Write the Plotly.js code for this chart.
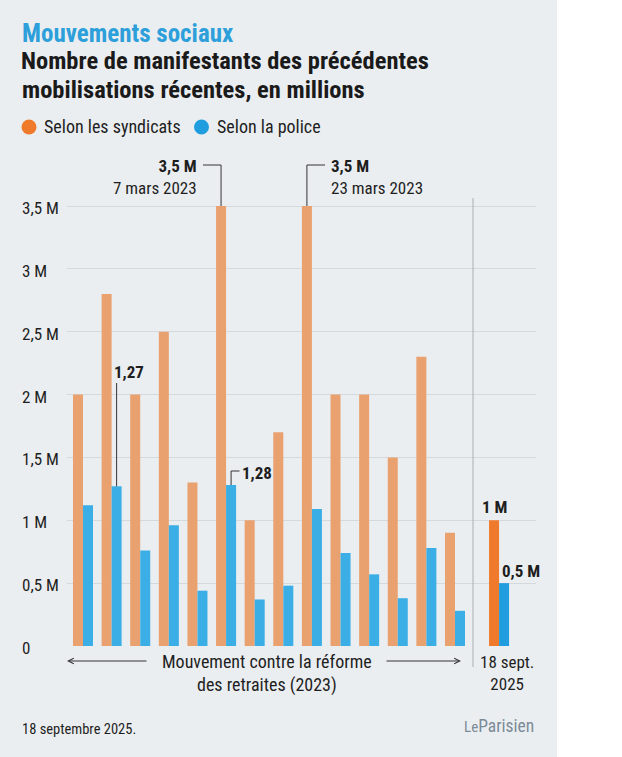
<!DOCTYPE html>
<html>
<head>
<meta charset="utf-8">
<script src="https://cdn.plot.ly/plotly-3.0.1.min.js"></script>
<style>
  html, body { margin: 0; padding: 0; background: #ffffff; }
  #chart { width: 557px; height: 757px; }
</style>
</head>
<body>
<div id="chart"></div>
<script>
// ---- Data ----
var syndicats2023 = [2.0, 2.8, 2.0, 2.5, 1.3, 3.5, 1.0, 1.7, 3.5, 2.0, 2.0, 1.5, 2.3, 0.9];
var police2023    = [1.12, 1.27, 0.76, 0.96, 0.44, 1.28, 0.37, 0.48, 1.09, 0.74, 0.57, 0.38, 0.78, 0.28];
var syndicats2025 = [1.0];
var police2025    = [0.5];
var label2025     = ['18 sept.<br>2025'];
var label2023     = 'Mouvement contre la réforme<br>des retraites (2023)';
var yTickVals     = [0, 0.5, 1, 1.5, 2, 2.5, 3, 3.5];
var yTickLabels   = ['0', '0,5 M', '1 M', '1,5 M', '2 M', '2,5 M', '3 M', '3,5 M'];
var seriesNames   = ['Selon les syndicats', 'Selon la police'];
var peakDates     = ['7 mars 2023', '23 mars 2023'];
var titleLines    = ['Nombre de manifestants des précédentes', 'mobilisations récentes, en millions'];

// ---- Styling ----
var FONT = "'Liberation Sans Narrow', 'Roboto Condensed', 'DejaVu Sans Condensed', Roboto, sans-serif";
var BG = '#ebeef1';
var ORANGE_LIGHT = '#e9a170';
var BLUE_LIGHT = '#3bafe5';
var ORANGE = '#f07a2c';
var BLUE = '#209ddf';
var TXT = '#1e1e1e';
var BW = 0.35;           // bar width in x units
var X2025 = syndicats2023.length - 1 + 1.54;
var XSEP = syndicats2023.length - 1 + 0.63;

function fmt(v) { return String(v).replace('.', ','); }

var idx = syndicats2023.map(function (_, i) { return i; });

var traces = [
  { type: 'bar', x: idx, y: syndicats2023, offset: -BW, width: BW,
    marker: { color: ORANGE_LIGHT }, name: seriesNames[0], showlegend: false, hoverinfo: 'y' },
  { type: 'bar', x: idx, y: police2023, offset: 0, width: BW,
    marker: { color: BLUE_LIGHT }, name: seriesNames[1], showlegend: false, hoverinfo: 'y' },
  { type: 'bar', x: [X2025], y: syndicats2025, offset: -BW, width: BW,
    marker: { color: ORANGE }, name: seriesNames[0], showlegend: false, hoverinfo: 'y' },
  { type: 'bar', x: [X2025], y: police2025, offset: 0, width: BW,
    marker: { color: BLUE }, name: seriesNames[1], showlegend: false, hoverinfo: 'y' }
];

// pixel helpers (plot area: x 67..536, y 156..646)
var PXL = 67, PW = 469, PYB = 646, PH = 490;
function px2paperX(px) { return (px - PXL) / PW; }
function py2paperY(py) { return (PYB - py) / PH; }
var XMIN = -0.559, XMAX = 15.831, YMAX = 3.8977;
function px2x(px) { return XMIN + (px - PXL) / PW * (XMAX - XMIN); }
function py2y(py) { return (PYB - py) / PH * YMAX; }

var annotations = [];
var shapes = [];

// kicker
annotations.push({ xref: 'paper', yref: 'paper', x: px2paperX(20), y: py2paperY(33),
  xanchor: 'left', yanchor: 'middle', showarrow: false, text: 'Mouvements sociaux',
  font: { family: FONT, size: 25, color: '#2d9fda', weight: 'bold' } });

// title second line
annotations.push({ xref: 'paper', yref: 'paper', x: px2paperX(20), y: py2paperY(89.5),
  xanchor: 'left', yanchor: 'middle', showarrow: false, text: titleLines[1],
  font: { family: FONT, size: 24.5, color: '#1a1a1a', weight: 'bold' } });

// legend
var legendColors = [ORANGE, BLUE];
var legendCircleX = [29, 201.5];
var legendTextX = [42, 215];
for (var k = 0; k < 2; k++) {
  shapes.push({ type: 'circle', xref: 'paper', yref: 'paper', xsizemode: 'pixel', ysizemode: 'pixel',
    xanchor: px2paperX(legendCircleX[k]), yanchor: py2paperY(127), x0: -7.5, x1: 7.5, y0: -7.5, y1: 7.5,
    fillcolor: legendColors[k], line: { width: 0 } });
  annotations.push({ xref: 'paper', yref: 'paper', x: px2paperX(legendTextX[k]), y: py2paperY(127),
    xanchor: 'left', yanchor: 'middle', showarrow: false, text: seriesNames[k],
    font: { family: FONT, size: 18, color: TXT } });
}

// y tick labels
for (var t = 0; t < yTickVals.length; t++) {
  annotations.push({ xref: 'paper', yref: 'y', x: px2paperX(20), y: yTickVals[t], yshift: -2,
    xanchor: 'left', yanchor: 'middle', showarrow: false, text: yTickLabels[t],
    font: { family: FONT, size: 17, color: TXT } });
}

var LINE = { color: '#333333', width: 1 };
var yTop = py2y(165);

// peak 1 (index 5)
var p1 = 5, p2 = 8;
shapes.push({ type: 'path', xref: 'x', yref: 'y', line: LINE,
  path: 'M ' + px2x(203) + ',' + yTop + ' H ' + (p1 - BW / 2) + ' V ' + syndicats2023[p1] });
annotations.push({ xref: 'x', yref: 'y', x: px2x(199), y: py2y(176.5), xanchor: 'right', yanchor: 'middle',
  align: 'right', showarrow: false,
  text: '<b>' + fmt(syndicats2023[p1]) + ' M</b><br>' + peakDates[0],
  font: { family: FONT, size: 17, color: TXT } });
// peak 2 (index 8)
shapes.push({ type: 'path', xref: 'x', yref: 'y', line: LINE,
  path: 'M ' + (p2 - BW / 2) + ',' + syndicats2023[p2] + ' V ' + yTop + ' H ' + px2x(325) });
annotations.push({ xref: 'x', yref: 'y', x: px2x(329), y: py2y(176.5), xanchor: 'left', yanchor: 'middle',
  align: 'left', showarrow: false,
  text: '<b>' + fmt(syndicats2023[p2]) + ' M</b><br>' + peakDates[1],
  font: { family: FONT, size: 17, color: TXT } });

// police peaks
var q1 = 1, q2 = 5;
shapes.push({ type: 'path', xref: 'x', yref: 'y', line: LINE,
  path: 'M ' + (q1 + BW / 2) + ',' + police2023[q1] + ' V ' + py2y(383) });
annotations.push({ xref: 'x', yref: 'y', x: px2x(112), y: py2y(372), xanchor: 'left', yanchor: 'middle',
  showarrow: false, text: '<b>' + fmt(police2023[q1]) + '</b>',
  font: { family: FONT, size: 17, color: TXT } });
shapes.push({ type: 'path', xref: 'x', yref: 'y', line: LINE,
  path: 'M ' + (q2 + BW / 2) + ',' + police2023[q2] + ' V ' + py2y(471) + ' H ' + px2x(239.5) });
annotations.push({ xref: 'x', yref: 'y', x: px2x(240), y: py2y(473), xanchor: 'left', yanchor: 'middle',
  showarrow: false, text: '<b>' + fmt(police2023[q2]) + '</b>',
  font: { family: FONT, size: 17, color: TXT } });

// 2025 labels
annotations.push({ xref: 'x', yref: 'y', x: X2025 - BW / 2, y: syndicats2025[0], yshift: 13,
  xanchor: 'center', yanchor: 'middle', showarrow: false, text: '<b>' + fmt(syndicats2025[0]) + ' M</b>',
  font: { family: FONT, size: 17, color: TXT } });
annotations.push({ xref: 'x', yref: 'y', x: X2025 + 0.04, y: police2025[0], yshift: 12,
  xanchor: 'left', yanchor: 'middle', showarrow: false, text: '<b>' + fmt(police2025[0]) + ' M</b>',
  font: { family: FONT, size: 17, color: TXT } });

// separator
shapes.push({ type: 'line', xref: 'x', yref: 'paper', x0: XSEP, x1: XSEP,
  y0: py2paperY(667), y1: py2paperY(198), line: { color: '#a8afb5', width: 1 } });

// bottom arrows + labels (paper y so they are not hidden below the axis range)
var yArrow = py2paperY(661);
annotations.push({ xref: 'x', yref: 'paper', x: px2x(67), y: yArrow, ax: 81, ay: 0, text: '',
  showarrow: true, arrowhead: 5, arrowsize: 1.1, arrowwidth: 1, arrowcolor: '#333333', standoff: 0 });
annotations.push({ xref: 'x', yref: 'paper', x: px2x(461), y: yArrow, ax: -76, ay: 0, text: '',
  showarrow: true, arrowhead: 5, arrowsize: 1.1, arrowwidth: 1, arrowcolor: '#333333', standoff: 0 });
annotations.push({ xref: 'x', yref: 'paper', x: px2x(266.5), y: py2paperY(673), xanchor: 'center', yanchor: 'middle',
  showarrow: false, text: label2023, align: 'center',
  font: { family: FONT, size: 18, color: TXT } });
annotations.push({ xref: 'x', yref: 'paper', x: px2x(507), y: py2paperY(673), xanchor: 'center', yanchor: 'middle',
  showarrow: false, text: label2025[0], align: 'center',
  font: { family: FONT, size: 17, color: TXT } });

// footer
annotations.push({ xref: 'paper', yref: 'paper', x: px2paperX(20), y: py2paperY(729),
  xanchor: 'left', yanchor: 'middle', showarrow: false, text: '18 septembre 2025.',
  font: { family: FONT, size: 14.5, color: TXT } });
annotations.push({ xref: 'paper', yref: 'paper', x: px2paperX(536), y: py2paperY(726),
  xanchor: 'right', yanchor: 'middle', showarrow: false,
  text: '<span style="font-size:15px">Le</span>Parisien',
  font: { family: FONT, size: 17.5, color: '#7b8b97' } });

var layout = {
  width: 557, height: 757,
  margin: { l: 67, r: 21, t: 156, b: 111, pad: 0 },
  paper_bgcolor: BG, plot_bgcolor: BG,
  showlegend: false,
  barmode: 'overlay',
  title: { text: titleLines[0],
    xref: 'container', yref: 'container', x: 21 / 557, xanchor: 'left', y: 1 - 60.5 / 757, yanchor: 'middle',
    font: { family: FONT, size: 24.5, color: '#1a1a1a', weight: 'bold' } },
  xaxis: { range: [XMIN, XMAX], showgrid: false, zeroline: false, showticklabels: false,
    showline: false, ticks: '', fixedrange: true },
  yaxis: { range: [0, YMAX], tickvals: yTickVals, showticklabels: false, showgrid: true,
    gridcolor: '#d4d9de', gridwidth: 1, zeroline: false, showline: false, ticks: '', fixedrange: true },
  annotations: annotations,
  shapes: shapes
};

Plotly.newPlot('chart', traces, layout, { displayModeBar: false, staticPlot: true });
</script>
</body>
</html>
